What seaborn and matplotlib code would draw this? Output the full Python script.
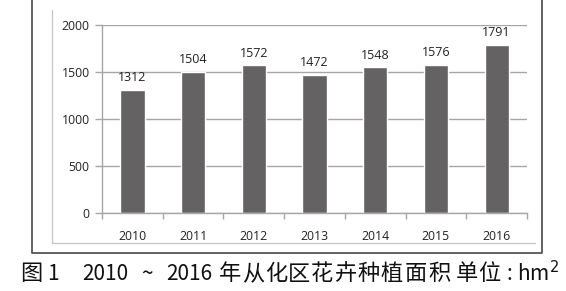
import matplotlib
matplotlib.use("Agg")
import matplotlib.pyplot as plt
import seaborn as sns
import pandas as pd
from matplotlib.lines import Line2D

years = ["2010", "2011", "2012", "2013", "2014", "2015", "2016"]
areas = [1312, 1504, 1572, 1472, 1548, 1576, 1791]
y_ticks = [0, 500, 1000, 1500, 2000]
caption_parts = ["图", "1", "2010", "~", "2016",
                 "年", "从", "化", "区", "花", "卉", "种", "植", "面", "积",
                 "单", "位", ":", "hm$^2$"]
caption_x = [20, 47, 82, 141, 166,
             219, 242, 265, 288, 311, 334, 358, 381, 405, 428,
             456, 478, 506, 517]

sns.set_theme(style="white")
plt.rcParams['font.family'] = ['Open Sans', 'Noto Sans CJK SC', 'DejaVu Sans']

W, H = 566, 291
fig = plt.figure(figsize=(W / 100, H / 100), dpi=100)
ax = fig.add_axes([102 / W, 1 - 213 / H, (527 - 102) / W, (213 - 25) / H])

df = pd.DataFrame({"year": years, "area": areas})
sns.barplot(data=df, x="year", y="area", color="#646262", saturation=1,
            width=0.4, ax=ax)

ax.set_ylim(0, 2000)
ax.set_xlim(-0.5, len(years) - 0.5)
ax.set_yticks(y_ticks)
ax.set_xlabel("")
ax.set_ylabel("")
ax.yaxis.grid(True, color="#a6a6a6", linewidth=1)
ax.set_axisbelow(True)
for s in ["top", "right"]:
    ax.spines[s].set_visible(False)
for s in ["left", "bottom"]:
    ax.spines[s].set_color("#a6a6a6")
    ax.spines[s].set_linewidth(1)

ax.tick_params(axis="y", which="major", left=True, length=5, width=1,
               color="#a6a6a6", labelsize=8.8, labelcolor="#222222", pad=4)
ax.tick_params(axis="x", which="major", bottom=False, labelsize=8.8,
               labelcolor="#222222", pad=6)
ax.set_xticks([i - 0.5 for i in range(len(years) + 1)], minor=True)
ax.tick_params(axis="x", which="minor", bottom=True, length=4, width=1,
               color="#a6a6a6")

for c in ax.containers:
    ax.bar_label(c, labels=[str(v) for v in areas], padding=4, fontsize=9,
                 color="#222222")

# frames
fig.add_artist(Line2D([52 / W, 52 / W], [1 - 10 / H, 1 - 243 / H],
                      color="#c8c8c8", lw=1, transform=fig.transFigure))
fig.add_artist(Line2D([52 / W, 535 / W], [1 - 243 / H, 1 - 243 / H],
                      color="#c8c8c8", lw=1, transform=fig.transFigure))
fig.add_artist(Line2D([32 / W, 32 / W, 542 / W, 542 / W],
                      [1.01, 1 - 253 / H, 1 - 253 / H, 1.01],
                      color="#555555", lw=1.3, transform=fig.transFigure))

cap_font = ['Noto Sans CJK SC', 'DejaVu Sans']
for txt, x in zip(caption_parts, caption_x):
    latin = txt[0].isascii()
    fig.text(x / W, 1 - 274 / H, txt, fontsize=15 if latin else 16,
             va="center", ha="left", color="#111111", family=cap_font)

fig.savefig("out.png", dpi=100)
